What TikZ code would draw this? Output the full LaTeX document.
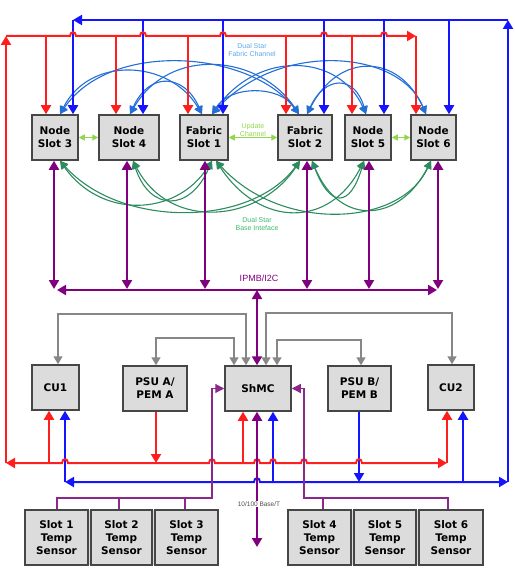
\documentclass[tikz,border=0pt]{standalone}
\usepackage{fontspec}
\setmainfont{DejaVu Sans}
\newfontfamily\lab{Liberation Sans}
\usetikzlibrary{arrows.meta}
\definecolor{cR}{RGB}{255,30,30}
\definecolor{cB}{RGB}{20,20,255}
\definecolor{cP}{RGB}{128,0,128}
\definecolor{cPl}{RGB}{140,40,140}
\definecolor{cG}{RGB}{135,135,135}
\definecolor{cBox}{RGB}{220,220,220}
\definecolor{cEdge}{RGB}{70,70,70}
\definecolor{cCurveB}{RGB}{35,110,215}
\definecolor{cCurveG}{RGB}{45,140,95}
\definecolor{cUpd}{RGB}{145,215,75}
\definecolor{cTxtB}{RGB}{90,170,235}
\definecolor{cTxtG}{RGB}{60,185,110}
\definecolor{cTxtK}{RGB}{80,80,80}
\newcommand\hopx[2]{-- (#1-3,#2) .. controls (#1-3,#2-5) and (#1+3,#2-5) .. (#1+3,#2)}
\tikzset{
 box/.style={draw=cEdge, line width=1.5pt, fill=cBox, align=center,
   font=\bfseries\fontsize{10.5}{13}\selectfont, inner sep=0pt, minimum height=45pt},
 sbox/.style={box, minimum height=55pt},
 redl/.style={draw=cR, line width=2pt, >={Triangle[length=9pt,width=10pt]}},
 bluel/.style={draw=cB, line width=2pt, >={Triangle[length=9pt,width=10pt]}},
 purl/.style={draw=cP, line width=2pt, >={Triangle[length=9pt,width=10pt]}},
 purthin/.style={draw=cPl, line width=1.2pt, >={Triangle[length=9pt,width=9pt]}},
 greyl/.style={draw=cG, line width=1.6pt, >={Triangle[length=8pt,width=9pt]}},
 bcurve/.style={draw=cCurveB, line width=1.1pt, <->, >={Triangle[length=8pt,width=8pt]}},
 gcurve/.style={draw=cCurveG, line width=1.1pt, <->, >={Triangle[length=8pt,width=8pt]}},
 upd/.style={draw=cUpd, line width=1pt, <->, >={Triangle[length=6pt,width=6pt]}},
 lbl/.style={font=\lab\fontsize{7}{8}\selectfont, align=center, inner sep=0pt}
}
\begin{document}
\begin{tikzpicture}[x=1pt,y=-1pt]
\useasboundingbox (0,0) rectangle (514,580);

% ---------------- boxes ----------------
\node[box, minimum width=46pt] (s3) at (55,137.5) {Node\\Slot 3};
\node[box, minimum width=60pt] (s4) at (129,137.5) {Node\\Slot 4};
\node[box, minimum width=48pt] (f1) at (204,137.5) {Fabric\\Slot 1};
\node[box, minimum width=54pt] (f2) at (305,137.5) {Fabric\\Slot 2};
\node[box, minimum width=46pt] (s5) at (368,137.5) {Node\\Slot 5};
\node[box, minimum width=45pt] (s6) at (433.5,137.5) {Node\\Slot 6};

\node[box, minimum width=47pt] (cu1) at (55.5,387.5) {CU1};
\node[box, minimum width=64pt] (psua) at (155,388.5) {PSU A/\\PEM A};
\node[box, minimum width=66pt] (shmc) at (258,388.5) {ShMC};
\node[box, minimum width=63pt] (psub) at (359.5,388.5) {PSU B/\\PEM B};
\node[box, minimum width=46pt] (cu2) at (451,387.5) {CU2};

\fill[cBox] (25,510) rectangle (218,565);
\fill[cBox] (288,510) rectangle (483,565);
\node[sbox, minimum width=63pt] (t1) at (56.5,537.5) {Slot 1\\Temp\\Sensor};
\node[sbox, minimum width=61pt] (t2) at (121.5,537.5) {Slot 2\\Temp\\Sensor};
\node[sbox, minimum width=63pt] (t3) at (186.5,537.5) {Slot 3\\Temp\\Sensor};
\node[sbox, minimum width=63pt] (t4) at (319.5,537.5) {Slot 4\\Temp\\Sensor};
\node[sbox, minimum width=62pt] (t5) at (385,537.5) {Slot 5\\Temp\\Sensor};
\node[sbox, minimum width=64pt] (t6) at (451,537.5) {Slot 6\\Temp\\Sensor};

% ---------------- labels ----------------
\node[lbl, text=cTxtB] (lfab) at (252,50) {Dual Star\\Fabric Channel};
\node[lbl, text=cUpd] (lupd) at (253,129.5) {Update\\Channel};
\node[lbl, text=cTxtG] (lbase) at (257,224) {Dual Star\\Base Inteface};

% ---------------- blue fabric curves ----------------
\draw[bcurve] (60,0 |- s3.north) .. controls (90,55) and (170,60) .. (202,0 |- f1.north);
\draw[bcurve] (60,0 |- s3.north) .. controls (110,40) and (250,50) .. (299,0 |- f2.north);
\draw[bcurve] (130,0 |- s4.north) .. controls (150,70) and (185,75) .. (202,0 |- f1.north);
\draw[bcurve] (130,0 |- s4.north) .. controls (170,45) and (260,55) .. (299,0 |- f2.north);
\draw[bcurve] (212,0 |- f1.north) .. controls (230,85) and (280,85) .. (299,0 |- f2.north);
\draw[bcurve] (212,0 |- f1.north) .. controls (260,48) and (340,55) .. (366,0 |- s5.north);
\draw[bcurve] (212,0 |- f1.north) .. controls (280,40) and (400,50) .. (426,0 |- s6.north);
\draw[bcurve] (307,0 |- f2.north) .. controls (325,75) and (355,75) .. (366,0 |- s5.north);
\draw[bcurve] (307,0 |- f2.north) .. controls (340,50) and (400,55) .. (426,0 |- s6.north);

% ---------------- green base curves ----------------
\draw[gcurve] (60,0 |- s3.south) .. controls (100,218) and (175,218) .. (212,0 |- f1.south);
\draw[gcurve] (60,0 |- s3.south) .. controls (120,228) and (250,228) .. (300,0 |- f2.south);
\draw[gcurve] (133,0 |- s4.south) .. controls (150,212) and (190,212) .. (212,0 |- f1.south);
\draw[gcurve] (133,0 |- s4.south) .. controls (170,232) and (260,222) .. (300,0 |- f2.south);
\draw[gcurve] (216,0 |- f1.south) .. controls (260,228) and (330,228) .. (364,0 |- s5.south);
\draw[gcurve] (216,0 |- f1.south) .. controls (280,232) and (400,228) .. (431,0 |- s6.south);
\draw[gcurve] (312,0 |- f2.south) .. controls (330,208) and (350,208) .. (364,0 |- s5.south);
\draw[gcurve] (312,0 |- f2.south) .. controls (340,228) and (400,222) .. (431,0 |- s6.south);

% ---------------- update channel ----------------
\draw[upd] (s3.east) -- (s4.west);
\draw[upd] (f1.east) -- (f2.west);
\draw[upd] (s5.east) -- (s6.west);

% ---------------- blue power/alarm bus ----------------
\coordinate (bTR) at (508,20);
\coordinate (bTL) at (73,20);
\coordinate (bBR) at (508,482);
\coordinate (bBL) at (65,482);
\draw[bluel,->] (bBR) -- (bTR);
\draw[bluel,->] (bTR) -- (bTL);
\draw[bluel,->] (bTL) -- (73,0 |- s3.north);
\foreach \x/\n in {143/s4,223/f1,324/f2,384/s5,449/s6}
  \draw[bluel,->] (\x,20) -- (\x,0 |- \n.north);
\draw[bluel,<->] (bBL) \hopx{257}{482} -- (bBR);
\draw[bluel,->] (bBL) -- (65,0 |- cu1.south);
\draw[bluel,->] (273,482) -- (273,0 |- shmc.south);
\draw[bluel,->] (463,482) -- (463,0 |- cu2.south);
\draw[bluel,->] (359,0 |- psub.south) -- (359,482);

% ---------------- red bus ----------------
\coordinate (rTL) at (6,36);
\coordinate (rTR) at (416,36);
\coordinate (rBL) at (6,463);
\coordinate (rBR) at (447,463);
\draw[redl,->] (rBL) -- (rTL);
\draw[redl,->] (rTL) \hopx{73}{36} \hopx{143}{36} \hopx{223}{36} \hopx{324}{36} \hopx{384}{36} -- (rTR);
\draw[redl,->] (rTR) -- (416,0 |- s6.north);
\foreach \x/\n in {46/s3,116/s4,188/f1,286/f2,352/s5}
  \draw[redl,->] (\x,36) -- (\x,0 |- \n.north);
\draw[redl,<->] (rBL) \hopx{65}{463} \hopx{212}{463} \hopx{257}{463} \hopx{273}{463} \hopx{304}{463} \hopx{359}{463} -- (rBR);
\draw[redl,->] (49,463) -- (49,0 |- cu1.south);
\draw[redl,->] (243,463) -- (243,0 |- shmc.south);
\draw[redl,->] (rBR) -- (447,0 |- cu2.south);
\draw[redl,->] (156,0 |- psua.south) -- (156,463);

% ---------------- grey links ----------------
\draw[greyl,<->] (58,0 |- cu1.north) -- (58,314) -- (246,314) -- (246,0 |- shmc.north);
\draw[greyl,<->] (156,0 |- psua.north) -- (156,338) -- (234,338) -- (234,0 |- shmc.north);
\draw[greyl,<->] (452,0 |- cu2.north) -- (452,313) -- (266,313) -- (266,0 |- shmc.north);
\draw[greyl,<->] (361,0 |- psub.north) -- (361,340) -- (277,340) -- (277,0 |- shmc.north);

% ---------------- IPMB ----------------
\coordinate (iL) at (57,290);
\coordinate (iR) at (437,290);
\draw[purl,<->] (iL) -- (iR);
\foreach \x/\n in {54/s3,127/s4,205/f1,307/f2,369/s5,438/s6}
  \draw[purl,<->] (\x,0 |- \n.south) -- (\x,289);
\draw[purl,<->] (257,290) -- (257,0 |- shmc.north);
\node[lbl, text=cP, font=\lab\fontsize{9}{10}\selectfont] (lipmb) at (259,278) {IPMB/I2C};

% ---------------- 10/100 Base/T ----------------
\coordinate (eth) at (257,547);
\draw[purl,<->] (257,0 |- shmc.south) -- (eth);
\node[lbl, text=cTxtK, fill=white, inner sep=1pt, font=\lab\fontsize{6.5}{7}\selectfont] (lbt) at (259,504) {10/100 Base/T};

% ---------------- sensor links ----------------
\draw[purthin,->] (57,0 |- t1.north) -- (57,498) -- (212,498) -- (212,0 |- shmc.west) -- (shmc.west);
\draw[purthin] (119,498) -- (119,0 |- t2.north);
\draw[purthin] (185,498) -- (185,0 |- t3.north);
\draw[purthin,->] (448,0 |- t6.north) -- (448,498) -- (304,498) -- (304,0 |- shmc.east) -- (shmc.east);
\draw[purthin] (323,498) -- (323,0 |- t4.north);
\end{tikzpicture}
\end{document}
